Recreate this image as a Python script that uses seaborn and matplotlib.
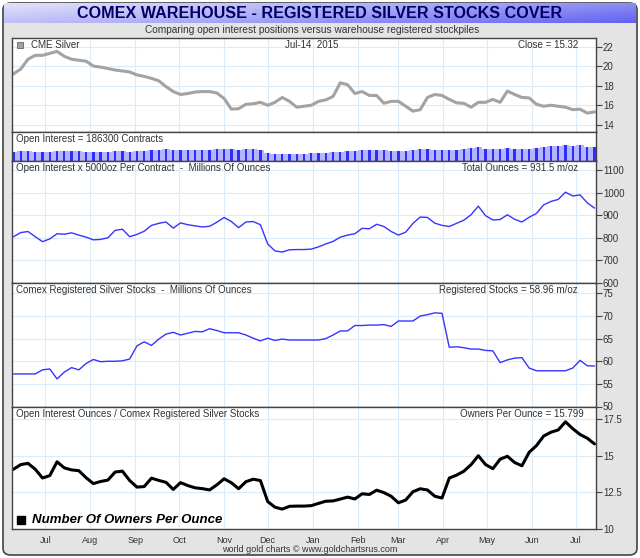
import numpy as np
import pandas as pd
import matplotlib
matplotlib.use("Agg")
import matplotlib.pyplot as plt
import matplotlib.dates as mdates
from matplotlib.patches import FancyBboxPatch, Rectangle
from matplotlib.colors import LinearSegmentedColormap
from matplotlib.ticker import FuncFormatter, MultipleLocator
import seaborn as sns

# =====================================
# Data (5-day steps)
# =====================================

dates = pd.date_range("2014-06-09", periods=81, freq="5D")

silver_close = [
    19.2, 19.7, 20.7, 21.1, 21.1, 21.3, 21.5, 21.0, 20.7, 20.6,
    20.5, 20.0, 19.9, 19.75, 19.6, 19.5, 19.4, 19.1, 18.95, 18.75,
    18.5, 17.9, 17.4, 17.1, 17.2, 17.35, 17.4, 17.4, 17.25, 16.7,
    15.6, 15.65, 16.1, 16.15, 16.3, 16.0, 16.3, 16.8, 16.4, 15.8,
    15.9, 16.0, 16.4, 16.55, 16.9, 18.3, 18.1, 17.2, 17.4, 17.0,
    17.0, 16.2, 16.4, 16.4, 15.9, 15.4, 15.55, 16.8, 17.1, 17.0,
    16.6, 16.25, 16.2, 15.8, 16.3, 16.3, 16.6, 16.3, 17.45, 17.1,
    16.8, 16.75, 16.1, 15.9, 16.0, 15.9, 15.8, 15.55, 15.6, 15.2,
    15.32,
]

# open interest x 5000 oz, millions of ounces
oi_moz = [
    805, 823, 828, 805, 783, 795, 818, 816, 822, 812,
    803, 791, 793, 800, 833, 838, 805, 815, 829, 855,
    864, 870, 843, 866, 858, 853, 848, 851, 869, 890,
    872, 845, 870, 872, 858, 773, 742, 737, 747, 748,
    748, 750, 760, 773, 784, 803, 812, 818, 842, 840,
    860, 850, 828, 812, 825, 864, 892, 890, 865, 855,
    850, 864, 878, 902, 940, 898, 879, 881, 902, 882,
    870, 891, 908, 946, 961, 970, 1002, 985, 990, 955,
    931.5,
]

# comex registered silver stocks, millions of ounces
registered_moz = [
    57.2, 57.2, 57.2, 57.2, 58.1, 58.3, 56.1, 57.6, 58.6, 58.1,
    59.5, 60.4, 59.9, 60.0, 60.0, 60.1, 60.5, 63.4, 64.3, 63.5,
    64.9, 66.0, 66.4, 65.8, 66.2, 66.6, 66.5, 67.2, 66.8, 66.3,
    66.3, 66.3, 65.8, 65.1, 64.5, 65.1, 64.6, 64.9, 64.7, 64.7,
    64.7, 64.7, 64.7, 65.0, 65.8, 66.7, 66.7, 67.9, 67.9, 68.0,
    68.0, 68.1, 67.7, 68.9, 68.9, 68.9, 70.0, 70.3, 70.7, 70.6,
    63.1, 63.2, 63.0, 62.7, 62.7, 62.4, 62.3, 59.7, 60.3, 60.7,
    60.8, 58.5, 57.9, 57.9, 57.9, 57.9, 57.9, 58.5, 60.2, 59.0,
    58.96,
]

oi_contracts = np.array(oi_moz) * 1e6 / 5000
owners_per_oz = np.array(oi_moz) / np.array(registered_moz)

# =====================================
# Figure / frame
# =====================================

sns.set_style("white")
plt.rcParams["font.family"] = ["Liberation Sans", "DejaVu Sans"]

W, H = 640, 558
fig = plt.figure(figsize=(W / 100, H / 100), dpi=100, facecolor="white")

frame = FancyBboxPatch(
    (3 / W, 3 / H), 634 / W, 552 / H,
    boxstyle="round,pad=0,rounding_size=0.012",
    transform=fig.transFigure,
    facecolor="#e4e4e4", edgecolor="#444444", linewidth=1.2, zorder=-5
)
fig.add_artist(frame)

# title bar with blue gradient
tax = fig.add_axes([4 / W, 1 - 23 / H, 632 / W, 20 / H])
gx = np.linspace(0, 1, 200)
gy = np.linspace(0, 1, 20)
grad = 0.7 * gx[None, :] + 0.3 * gy[:, None]
cmap = LinearSegmentedColormap.from_list("bar", ["#e2e2fb", "#a8a8f6", "#6262f2"])
tax.imshow(grad, cmap=cmap, aspect="auto", extent=[0, 1, 0, 1])
tax.set_xlim(0, 1)
tax.set_ylim(0, 1)
tax.axis("off")
tax.text(0.5, 0.48, "COMEX WAREHOUSE - REGISTERED SILVER STOCKS COVER",
         ha="center", va="center", fontsize=11.6, fontweight="bold",
         color="#000066")

fig.text(312 / W, 1 - 30 / H,
         "Comparing open interest positions versus warehouse registered stockpiles",
         ha="center", va="center", fontsize=7.3, color="#333333")

fig.text(310 / W, 1 - 549 / H, "world gold charts \u00a9 www.goldchartsrus.com",
         ha="center", va="center", fontsize=6.5, color="#333333")


def panel(top, bottom):
    ax = fig.add_axes([12 / W, 1 - bottom / H, 584 / W, (bottom - top) / H])
    ax.set_facecolor("white")
    for s in ax.spines.values():
        s.set_color("#444444")
        s.set_linewidth(1.0)
    ax.set_xlim(pd.Timestamp("2014-06-08"), pd.Timestamp("2015-07-15"))
    ax.xaxis.set_major_locator(mdates.MonthLocator())
    ax.xaxis.set_major_formatter(mdates.DateFormatter("%b"))
    ax.tick_params(axis="x", labelbottom=False, length=0)
    ax.yaxis.tick_right()
    ax.tick_params(axis="y", direction="out", length=4, width=0.8,
                   color="#444444", labelsize=7, labelcolor="#333333", pad=1)
    ax.grid(True, color="#dcebf8", linewidth=0.8)
    ax.set_axisbelow(True)
    return ax


def label(ax, text, where="left", dx=3):
    xy = {"left": (0, 1), "center": (0.513, 1), "right": (0.969, 1)}[where]
    ha = {"left": "left", "center": "center", "right": "right"}[where]
    ax.annotate(text, xy=xy, xycoords="axes fraction",
                xytext=(dx if where == "left" else 0, -1.5),
                textcoords="offset points", ha=ha, va="top",
                fontsize=7, color="#333333")


fmt = FuncFormatter(lambda v, p: f"{v:g}")

# =====================================
# Panel 1 - CME silver
# =====================================

ax1 = panel(37.7, 131.7)
sns.lineplot(x=dates, y=silver_close, ax=ax1, color="#a3a3a3", linewidth=2.2)
ax1.set_ylim(13.3, 22.9)
ax1.yaxis.set_major_locator(MultipleLocator(2))
ax1.yaxis.set_major_formatter(fmt)
ax1.set_xlabel("")
ax1.add_patch(Rectangle((5 / 584, 1 - 10.5 / 94), 6 / 584, 6 / 94,
                        transform=ax1.transAxes, facecolor="#a3a3a3",
                        edgecolor="#666666", linewidth=0.6))
label(ax1, "CME Silver", dx=14)
label(ax1, dates[-1].strftime("%b-%d  %Y"), "center")
label(ax1, f"Close = {silver_close[-1]:.2f}", "right")

# =====================================
# Panel 2 - open interest contracts
# =====================================

ax2 = panel(131.7, 161)
ax2.bar(dates, oi_contracts, width=5.0, color="#b4b4ff", linewidth=0)
ax2.bar(dates, oi_contracts, width=1.6, color="#2e2ef8", linewidth=0)
ax2.set_ylim(105000, 280000)
ax2.grid(False)
ax2.set_yticks([])
label(ax2, f"Open Interest = {oi_contracts[-1]:.0f} Contracts")

# =====================================
# Panel 3 - open interest ounces
# =====================================

ax3 = panel(161, 283)
sns.lineplot(x=dates, y=oi_moz, ax=ax3, color="#3535ff", linewidth=1.0)
ax3.set_ylim(600, 1140)
ax3.yaxis.set_major_locator(MultipleLocator(100))
ax3.yaxis.set_major_formatter(fmt)
ax3.set_xlabel("")
label(ax3, "Open Interest x 5000oz Per Contract  -  Millions Of Ounces")
label(ax3, f"Total Ounces = {oi_moz[-1]:.1f} m/oz", "right")

# =====================================
# Panel 4 - registered stocks
# =====================================

ax4 = panel(283, 406.5)
sns.lineplot(x=dates, y=registered_moz, ax=ax4, color="#3535ff", linewidth=1.0)
ax4.set_ylim(50, 77.3)
ax4.yaxis.set_major_locator(MultipleLocator(5))
ax4.yaxis.set_major_formatter(fmt)
ax4.set_xlabel("")
label(ax4, "Comex Registered Silver Stocks  -  Millions Of Ounces")
label(ax4, f"Registered Stocks = {registered_moz[-1]:.2f} m/oz", "right")

# =====================================
# Panel 5 - owners per ounce
# =====================================

ax5 = panel(406.5, 529)
sns.lineplot(x=dates, y=owners_per_oz, ax=ax5, color="black", linewidth=2.2)
ax5.set_ylim(10, 18.35)
ax5.yaxis.set_major_locator(MultipleLocator(2.5))
ax5.yaxis.set_major_formatter(fmt)
ax5.set_xlabel("")
ax5.tick_params(axis="x", labelbottom=True, length=3, width=0.8,
                direction="out", color="#444444", labelsize=6.5,
                labelcolor="#333333", pad=2)
label(ax5, "Open Interest Ounces / Comex Registered Silver Stocks")
ax5.annotate(f"Owners Per Ounce = {owners_per_oz[-1]:.3f}", xy=(0.979, 1),
             xycoords="axes fraction", xytext=(0, -1.5),
             textcoords="offset points", ha="right", va="top",
             fontsize=7, color="#333333")
ax5.add_patch(Rectangle((5 / 584, 5 / 122.5), 8 / 584, 8 / 122.5,
                        transform=ax5.transAxes, facecolor="black",
                        edgecolor="black"))
ax5.text(20 / 584, 9 / 122.5, "Number Of Owners Per Ounce",
         transform=ax5.transAxes, ha="left", va="center",
         fontsize=9.5, fontweight="bold", fontstyle="italic", color="black")

fig.savefig("out.png", dpi=100, facecolor="white")
